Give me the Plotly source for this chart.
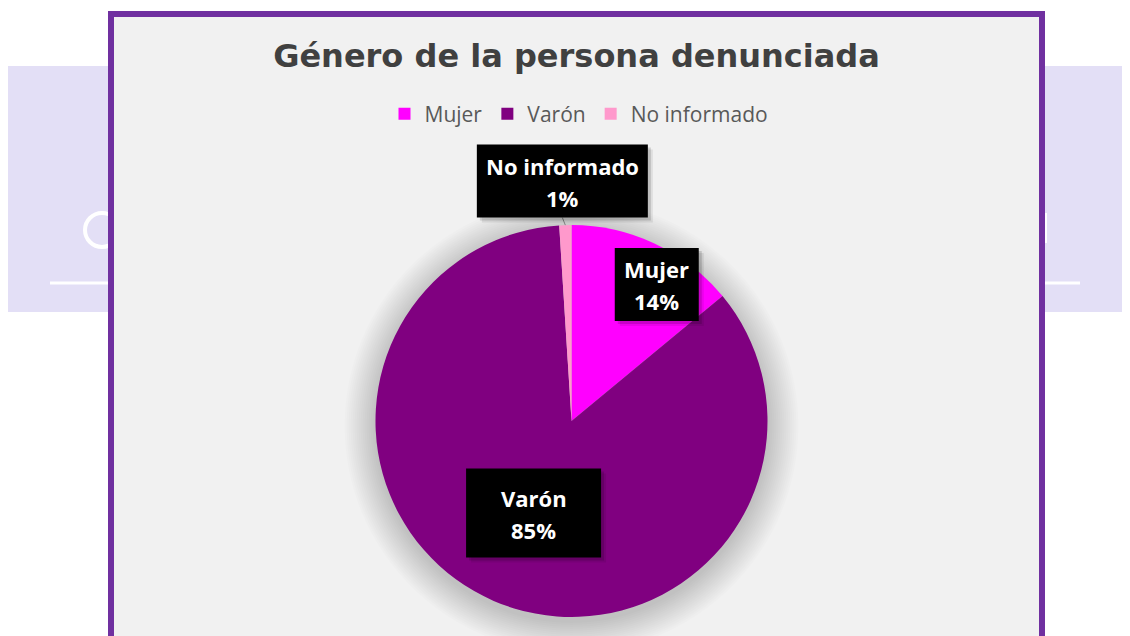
import numpy as np
import plotly.graph_objects as go

# data
categories = ['Mujer', 'Varón', 'No informado']
values = [14, 85, 1]
slice_colors = ['#ff00ff', '#800080', '#ff99cc']

OFF = 8  # page body margin of the html
W, H = 1130 - OFF, 636 - OFF


def px(x):
    return (x - OFF) / W


def py(y):
    return 1 - (y - OFF) / H


# pie geometry in pixels
cx, cy, R = 571.5, 421, 196

# background page bits (lavender band behind the chart panel)
shapes = [
    dict(type='rect', xref='paper', yref='paper', x0=px(8), x1=px(1130), y0=py(312), y1=py(66),
         fillcolor='#e3dff6', line_width=0, layer='below'),
    dict(type='line', xref='paper', yref='paper', x0=px(50), x1=px(1080), y0=py(283), y1=py(283),
         line=dict(color='white', width=3), layer='below'),
    dict(type='circle', xref='paper', yref='paper', x0=px(85), x1=px(119), y0=py(247), y1=py(213),
         line=dict(color='white', width=4), layer='below'),
    dict(type='line', xref='paper', yref='paper', x0=px(1046), x1=px(1046), y0=py(243), y1=py(213),
         line=dict(color='white', width=2), layer='below'),
    # chart panel
    dict(type='rect', xref='paper', yref='paper', x0=px(111), x1=px(1042), y0=py(660), y1=py(14),
         fillcolor='#f1f1f1', line=dict(color='#7030a0', width=6), layer='below'),
]

# soft shadow under the pie
for k in range(16):
    r = R + 1 + 2 * k
    shapes.append(dict(type='circle', xref='paper', yref='paper',
                       x0=px(cx - r), x1=px(cx + r), y0=py(cy + 5 + r), y1=py(cy + 5 - r),
                       fillcolor='rgba(0,0,0,0.011)', line_width=0, layer='below'))

fig = go.Figure(go.Pie(
    labels=categories,
    values=values,
    sort=False,
    direction='clockwise',
    rotation=0,
    marker=dict(colors=slice_colors, line=dict(width=0)),
    textinfo='none',
    hoverinfo='label+percent',
    domain=dict(x=[px(cx - R), px(cx + R)], y=[py(cy + R), py(cy - R)]),
))

# data labels: black boxes placed along each slice's mid angle
total = sum(values)
pct = [v / total * 100 for v in values]
cum = np.cumsum([0] + values[:-1])
mid = [(c + v / 2) / total * 2 * np.pi for c, v in zip(cum, values)]

label_r = [0.77, 0.5, 1.0]
label_shift = [(21, 0), (1, 2), (-3, -44)]
box_size = [(84, 73), (135, 89), (171, 73)]
label_font = dict(family='Open Sans', size=22, color='white')

annotations = []
for i, name in enumerate(categories):
    lx = cx + R * label_r[i] * np.sin(mid[i])
    ly = cy - R * label_r[i] * np.cos(mid[i])
    dx, dy = label_shift[i]
    bw, bh = box_size[i]
    bx, by = lx + dx, ly + dy

    if label_r[i] >= 1:
        # leader line from slice edge to the box
        shapes.append(dict(type='line', xref='paper', yref='paper',
                           x0=px(lx), y0=py(ly), x1=px(bx), y1=py(by + bh / 2),
                           line=dict(color='#7f7f7f', width=1), layer='above'))
    # box shadow + box
    for s, a in [(5, 0.08), (3, 0.14)]:
        shapes.append(dict(type='rect', xref='paper', yref='paper',
                           x0=px(bx - bw / 2 + s), x1=px(bx + bw / 2 + s),
                           y0=py(by + bh / 2 + s), y1=py(by - bh / 2 + s),
                           fillcolor='rgba(0,0,0,{})'.format(a), line_width=0, layer='above'))
    shapes.append(dict(type='rect', xref='paper', yref='paper',
                       x0=px(bx - bw / 2), x1=px(bx + bw / 2),
                       y0=py(by + bh / 2), y1=py(by - bh / 2),
                       fillcolor='black', line_width=0, layer='above'))

    annotations.append(dict(x=px(bx), y=py(by - 15), xref='paper', yref='paper',
                            text='<b>{}</b>'.format(name), showarrow=False,
                            xanchor='center', yanchor='middle', font=label_font))
    annotations.append(dict(x=px(bx), y=py(by + 17), xref='paper', yref='paper',
                            text='<b>{:.0f}%</b>'.format(pct[i]), showarrow=False,
                            xanchor='center', yanchor='middle', font=label_font))

fig.update_layout(
    width=W,
    height=H,
    margin=dict(l=0, r=0, t=0, b=0),
    paper_bgcolor='white',
    plot_bgcolor='white',
    shapes=shapes,
    annotations=annotations,
    title=dict(text='<b>Género de la persona denunciada</b>', x=px(576.5), y=py(56),
               xanchor='center', yanchor='middle',
               font=dict(family='DejaVu Sans', size=32, color='#404040')),
    showlegend=True,
    legend=dict(orientation='h', x=px(579), y=py(114), xanchor='center', yanchor='middle',
                bgcolor='rgba(0,0,0,0)', font=dict(family='Open Sans', size=21, color='#595959')),
)

fig.write_html("out.html")
